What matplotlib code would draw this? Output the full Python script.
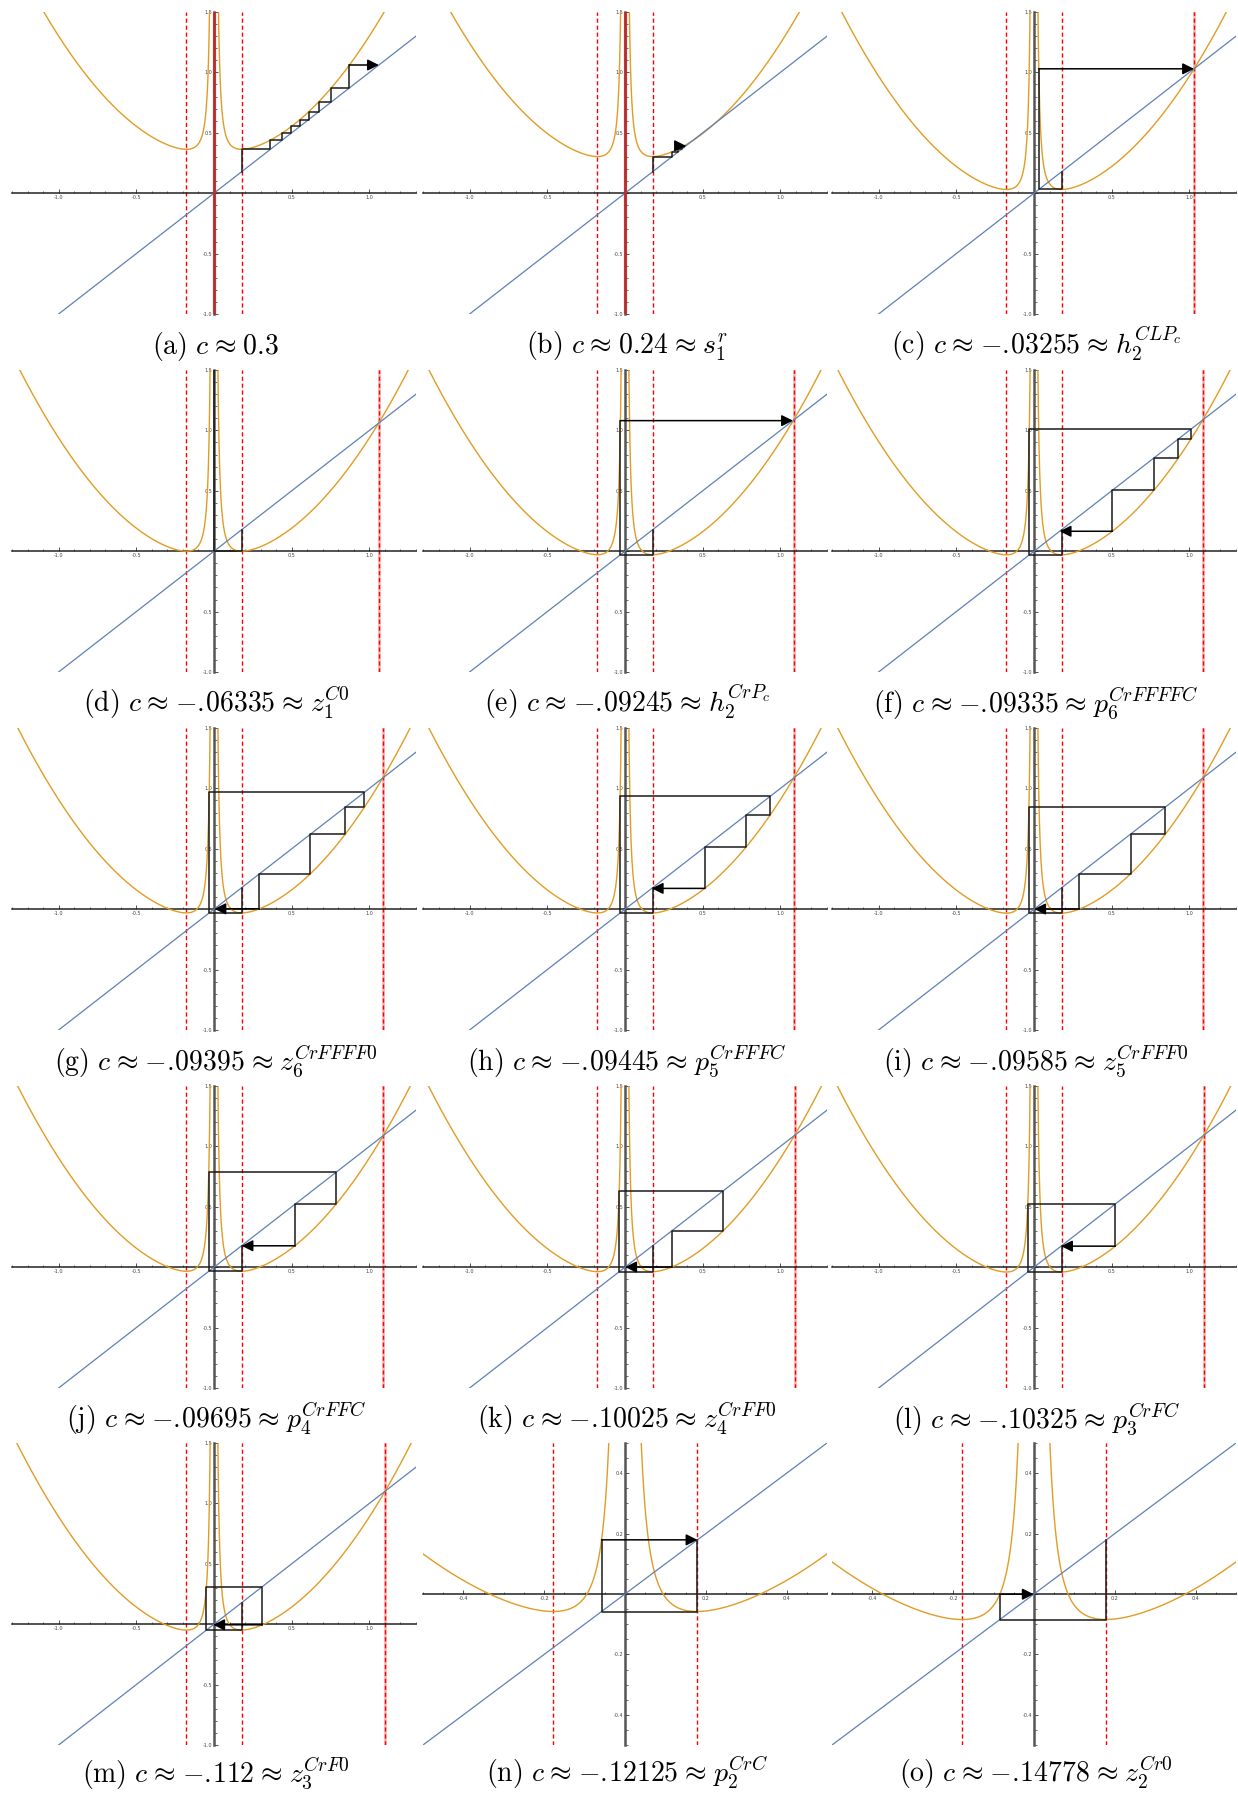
import numpy as np
import matplotlib.pyplot as plt
from matplotlib.ticker import MultipleLocator, FuncFormatter

plt.rcParams['mathtext.fontset'] = 'cm'

# ----------------------------
# data: f(x) = x^2 + c + lam/x^2
# ----------------------------
lam = 0.001

labels = list("abcdefghijklmno")
c_vals = [0.3, 0.24, -0.03255, -0.06335, -0.09245, -0.09335, -0.09395, -0.09445,
          -0.09585, -0.09695, -0.10025, -0.10325, -0.112, -0.12125, -0.14778]
c_text = ["0.3", "0.24", "-.03255", "-.06335", "-.09245", "-.09335", "-.09395", "-.09445",
          "-.09585", "-.09695", "-.10025", "-.10325", "-.112", "-.12125", "-.14778"]
names = ["", "s_1^r", "h_2^{CLP_c}", "z_1^{C0}", "h_2^{CrP_c}", "p_6^{CrFFFFC}",
         "z_6^{CrFFFF0}", "p_5^{CrFFFC}", "z_5^{CrFFF0}", "p_4^{CrFFC}", "z_4^{CrFF0}",
         "p_3^{CrFC}", "z_3^{CrF0}", "p_2^{CrC}", "z_2^{Cr0}"]
n_steps = [9, 5, 2, 2, 2, 6, 6, 5, 5, 4, 4, 3, 3, 2, 2]
zoomed = [False] * 13 + [True, True]
show_beta = [False, False] + [True] * 11 + [False, False]
pole_line = [True, True] + [False] * 13

ORANGE = "#E19C24"
BLUE = "#5E81B5"


def f(x, c):
    return x**2 + c + lam / x**2


def beta(c):
    r = np.roots([1, -1, c, 0, lam])
    r = r[np.abs(r.imag) < 1e-9].real
    return r.max()


def num_tex(s):
    # keep "-.03255" tight in mathtext
    if s.startswith("-."):
        return r"{-}.\!" + s[2:]
    return s


W, H = 1238, 1796
fig = plt.figure(figsize=(W / 100, H / 100), dpi=100)

col_left = [12, 423, 832]
row_top = [12, 370, 728, 1086, 1443]
cap_gap = [40, 40, 40, 40, 37]
pw, ph = 404, 302

xcrit = lam ** 0.25
rel = r"\hspace{0.08}\approx\hspace{0.08}"

for i in range(15):
    r, k = divmod(i, 3)
    l, t = col_left[k], row_top[r]
    ax = fig.add_axes([l / W, 1 - (t + ph) / H, pw / W, ph / H])
    c = c_vals[i]

    if zoomed[i]:
        xr, yr = (-0.5, 0.5), (-0.5, 0.5)
        major, minor = 0.2, 0.05
    else:
        xr, yr = (-1.3, 1.3), (-1.0, 1.5)
        major, minor = 0.5, 0.1

    # curve, both branches
    xs = np.linspace(1e-4, xr[1], 4000)
    xs = np.concatenate([np.geomspace(1e-3, 0.2, 2000), xs[xs > 0.2]])
    ax.plot(xs, f(xs, c), color=ORANGE, lw=1.0, zorder=3)
    ax.plot(-xs, f(-xs, c), color=ORANGE, lw=1.0, zorder=3)
    ax.plot([xr[0], xr[1]], [xr[0], xr[1]], color=BLUE, lw=0.9, zorder=3)

    # dashed lines
    for xv in (-xcrit, xcrit):
        ax.axvline(xv, color="red", lw=1.0, ls=(0, (3, 2)), zorder=2)
    if show_beta[i]:
        b = beta(c)
        ax.axvline(b, color="#f6b0b0", lw=1.8, zorder=1.5)
        ax.axvline(b, color="red", lw=1.0, ls=(0, (3, 2)), zorder=2)
    if pole_line[i]:
        ax.axvline(0, color="#d42020", lw=2.3, alpha=0.75, zorder=4)

    # cobweb
    orbit = [xcrit]
    for _ in range(n_steps[i]):
        orbit.append(f(orbit[-1], c))
    px, py = [orbit[0]], [orbit[0]]
    for j in range(1, len(orbit)):
        px += [orbit[j - 1], orbit[j]]
        py += [orbit[j], orbit[j]]
    ax.plot(px[:-1], py[:-1], color="#1a1a1a", lw=1.1, zorder=5)
    if yr[0] < py[-1] < yr[1]:
        ax.annotate("", xy=(px[-1], py[-1]), xytext=(px[-2], py[-2]),
                    arrowprops=dict(arrowstyle="-|>", color="black", lw=1.1,
                                    mutation_scale=17, shrinkA=0, shrinkB=0),
                    zorder=6)

    ax.set_xlim(*xr)
    ax.set_ylim(*yr)
    for s in ("top", "right"):
        ax.spines[s].set_visible(False)
    ax.spines["left"].set_position("zero")
    ax.spines["bottom"].set_position("zero")
    ax.spines["left"].set_color("#555555")
    ax.spines["left"].set_linewidth(1.8)
    ax.spines["bottom"].set_color("#222222")
    ax.spines["bottom"].set_linewidth(1.1)
    ax.patch.set_visible(False)

    ax.xaxis.set_major_locator(MultipleLocator(major))
    ax.xaxis.set_minor_locator(MultipleLocator(minor))
    ax.yaxis.set_major_locator(MultipleLocator(major))
    ax.yaxis.set_minor_locator(MultipleLocator(minor))
    fmt = FuncFormatter(lambda v, p: "" if abs(v) < 1e-9 else "%.1f" % v)
    ax.xaxis.set_major_formatter(fmt)
    ax.yaxis.set_major_formatter(fmt)
    ax.tick_params(which="major", direction="in", length=3, width=0.6,
                   labelsize=3.5, labelcolor="#444444", pad=1.5, color="#333333")
    ax.tick_params(which="minor", direction="in", length=1.8, width=0.5, color="#333333")

    cap = r"$\mathrm{(%s)}\ c%s%s" % (labels[i], rel, num_tex(c_text[i]))
    if names[i]:
        cap += rel + names[i]
    cap += "$"
    fig.text((l + pw / 2 + 2) / W, 1 - (t + ph + cap_gap[r]) / H, cap,
             ha="center", va="baseline", fontsize=20)

fig.savefig("out.png", dpi=100)
